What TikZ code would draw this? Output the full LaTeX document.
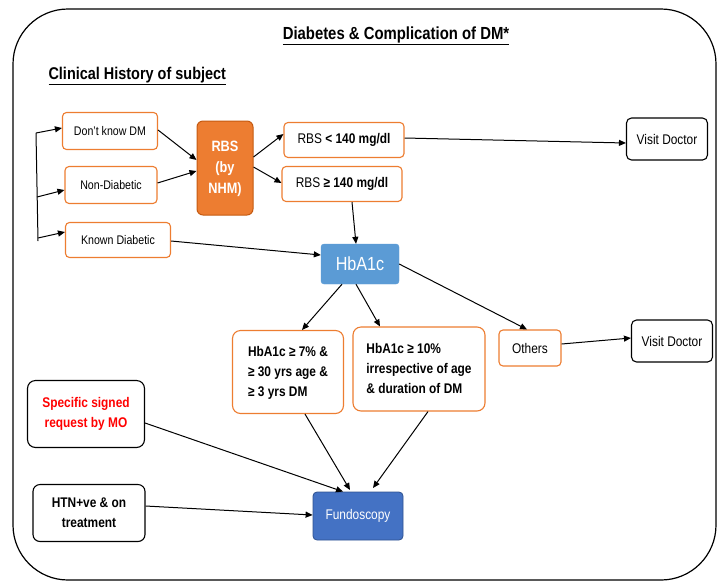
\documentclass[tikz,border=0pt]{standalone}
\usepackage{fontspec}
\setmainfont{Liberation Sans}[FakeStretch=0.85]
\usetikzlibrary{arrows.meta}
\definecolor{orng}{HTML}{ED7D31}
\definecolor{orngdk}{HTML}{C55A11}
\definecolor{lblue}{HTML}{5B9BD5}
\definecolor{mblue}{HTML}{4472C4}
\definecolor{mbluedk}{HTML}{2F528F}
\begin{document}
\begin{tikzpicture}[x=1pt,y=-1pt,
  obox/.style={draw=orng, line width=1.1pt, rounded corners=4pt, fill=white, align=center, inner sep=0pt, font=\fontsize{12.5}{15}\selectfont},
  kbox/.style={draw=black, line width=1.1pt, rounded corners=5pt, fill=white, align=center, inner sep=0pt, font=\fontsize{14}{17}\selectfont},
  arr/.style={-{Triangle[length=7pt,width=6pt]}, line width=1pt},
  ln/.style={line width=1pt}]
\useasboundingbox (0,0) rectangle (717,582);
\draw[line width=1.2pt, rounded corners=55pt] (13,9) rectangle (716,580);

\node[font=\bfseries\fontsize{17.5}{21}\selectfont] (title) at (396,36) {\underline{Diabetes \& Complication of DM*}};
\node[font=\bfseries\fontsize{17}{20}\selectfont, anchor=west] (hist) at (45,76) {\underline{Clinical History of subject}};

\node[obox, minimum width=95pt, minimum height=37pt] (dk) at (110,131) {Don't know DM};
\node[obox, minimum width=92pt, minimum height=37pt] (nd) at (111,185) {Non-Diabetic};
\node[obox, minimum width=105pt, minimum height=35pt] (kd) at (118,240) {Known Diabetic};
\node[draw=orngdk, fill=orng, line width=1pt, rounded corners=6pt, minimum width=56pt, minimum height=94pt, inner sep=0pt, text=white, font=\bfseries\fontsize{15}{21}\selectfont] (rbs) at (225,168) {\raisebox{-3pt}{\begin{tabular}{@{}c@{}}RBS\\(by\\NHM)\end{tabular}}};
\node[obox, minimum width=120pt, minimum height=35pt, font=\fontsize{14}{17}\selectfont] (lt) at (344,140) {RBS \textbf{< 140 mg/dl}};
\node[obox, minimum width=120pt, minimum height=35pt, font=\fontsize{14}{17}\selectfont] (ge) at (342,184) {RBS \textbf{≥ 140 mg/dl}};
\node[kbox, minimum width=81pt, minimum height=42pt] (vd1) at (667,139) {Visit Doctor};
\node[fill=lblue, draw=lblue, rounded corners=3pt, minimum width=78pt, minimum height=40pt, inner sep=0pt, text=white, font=\fontsize{19}{23}\selectfont] (hb) at (360,264) {HbA1c};
\node[obox, rounded corners=8pt, minimum width=111pt, minimum height=83pt, font=\bfseries\fontsize{14}{20}\selectfont] (h7) at (288,372) {\raisebox{-4pt}{\begin{tabular}{@{}l@{}}HbA1c ≥ 7\% \&\\≥ 30 yrs age \&\\≥ 3 yrs DM\end{tabular}}};
\node[obox, rounded corners=8pt, minimum width=132pt, minimum height=84pt, font=\bfseries\fontsize{14}{20}\selectfont] (h10) at (419,369) {\begin{tabular}{@{}l@{}}HbA1c ≥ 10\%\\irrespective of age\\\& duration of DM\end{tabular}};
\node[obox, minimum width=62pt, minimum height=36pt, font=\fontsize{14}{17}\selectfont] (oth) at (530,348) {Others};
\node[kbox, minimum width=81pt, minimum height=42pt] (vd2) at (672,341) {Visit Doctor};
\node[kbox, rounded corners=8pt, minimum width=117pt, minimum height=67pt, text=red, font=\bfseries\fontsize{14}{20}\selectfont] (sp) at (86,414) {Specific signed\\request by MO};
\node[kbox, rounded corners=7pt, minimum width=112pt, minimum height=57pt, font=\bfseries\fontsize{14}{20}\selectfont] (htn) at (89,513) {HTN+ve \& on\\treatment};
\node[fill=mblue, draw=mbluedk, line width=0.8pt, rounded corners=4pt, minimum width=90pt, minimum height=48pt, inner sep=0pt, text=white, font=\fontsize{14}{17}\selectfont] (fun) at (358,516) {Fundoscopy};

% bracket
\coordinate (b1) at (36,133);
\coordinate (b2) at (37,197);
\coordinate (b3) at (38,238);
\coordinate (b0) at (38,241);
\draw[ln] (b1) -- (b0);
\draw[arr] (b1) -- (dk.west |- 0,128);
\draw[arr] (b2) -- (nd.west |- 0,190);
\draw[arr] (b3) -- (kd.west |- 0,232);

\draw[arr] (dk.east |- 0,130) -- (rbs.west |- 0,160);
\draw[arr] (nd.east |- 0,183) -- (rbs.west |- 0,171);
\draw[arr] (rbs.east |- 0,157) -- (lt.west |- 0,134);
\draw[arr] (rbs.east |- 0,167) -- (ge.west |- 0,183);
\draw[arr] (lt.east |- 0,138) -- (vd1.west |- 0,143);
\draw[arr] (ge.south -| 352,0) -- (hb.north -| 356,0);
\draw[arr] (kd.east |- 0,241) -- (hb.west |- 0,255);
\draw[arr] (hb.south -| 342,0) -- (h7.north -| 302,0);
\draw[arr] (hb.south -| 356,0) -- (h10.north -| 380,0);
\draw[arr] (hb.east) -- (oth.north -| 527,0);
\draw[arr] (oth.east |- 0,344) -- (vd2.west |- 0,338);
\draw[arr] (h7.south -| 305,0) -- (350,490);
\draw[arr] (h10.south -| 428,0) -- (373,488);
\draw[arr] (sp.east |- 0,423) -- (fun.north -| 343,0);
\draw[arr] (htn.east |- 0,506) -- (fun.west |- 0,515);
\end{tikzpicture}
\end{document}
